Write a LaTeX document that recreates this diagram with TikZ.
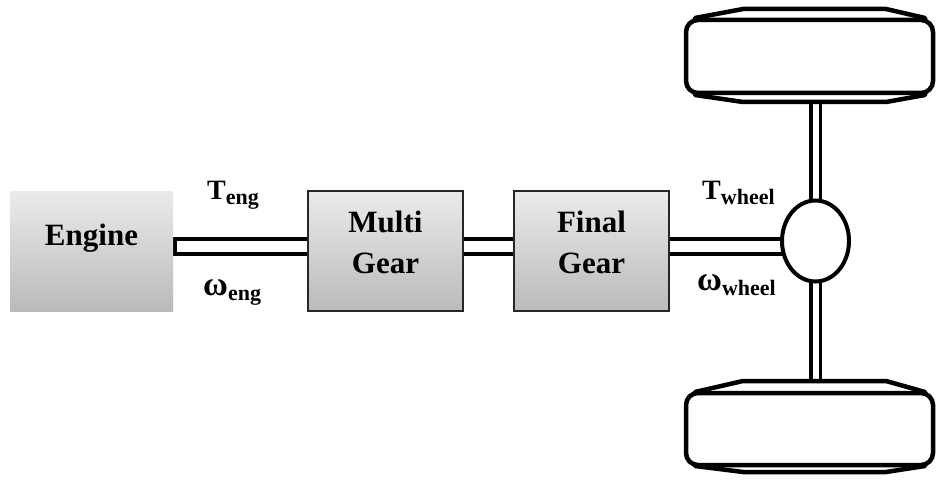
\documentclass[tikz,border=0pt]{standalone}
\usepackage{fontspec}
\setmainfont{Liberation Serif}
\usepackage{tikz}
\usetikzlibrary{shapes.geometric, backgrounds, positioning}

\newcommand{\varsub}[2]{#1\raisebox{-5pt}{\fontsize{22}{22}\selectfont #2}}
\newcommand{\bigomega}{{\fontsize{34}{34}\selectfont ω}}

\tikzset{
  unitbox/.style={minimum width=#1, minimum height=120pt, inner sep=0pt, outer sep=0pt,
    top color=black!8, bottom color=black!27},
  gearbox/.style={unitbox=155pt, draw=black!85, line width=1.5pt},
  boxtext/.style={inner sep=0pt, align=center, font={\fontsize{31}{41}\selectfont\bfseries}},
  shaft/.style={draw, line width=4pt, double=white, double distance=11pt, line cap=rect},
  axle/.style={draw, line width=3.5pt, double=white, double distance=6pt, line cap=rect},
  tyre/.style={draw, line width=4.5pt, fill=white, rounded corners=12pt, minimum width=247pt,
    inner sep=0pt, outer sep=0pt},
  tread/.style={draw, line width=4.5pt, fill=white, line join=round},
  varlbl/.style={inner sep=0pt, anchor=base west, font={\fontsize{28}{30}\selectfont\bfseries}}
}

\begin{document}
\begin{tikzpicture}[x=1pt, y=-1pt]
  \useasboundingbox (0,0) rectangle (936,481);

  % boxes of the drive line
  \node[unitbox=163pt] (engine) at (91.5,251) {};
  \node[gearbox] (multi) at (385.5,251) {};
  \node[gearbox] (final) at (591.5,251) {};
  \node[boxtext] (enginetxt) at ([yshift=13pt]engine.center) {Engine};
  \node[boxtext] (multitxt) at ([yshift=9pt]multi.center) {Multi\\Gear};
  \node[boxtext] (finaltxt) at ([yshift=9pt]final.center) {Final\\Gear};

  % differential
  \node[draw, ellipse, line width=4pt, fill=white, minimum width=67pt, minimum height=81pt,
    inner sep=0pt, outer sep=0pt] (diff) at (815.5,241) {};

  % wheels: tread first, then the tyre over it
  \draw[tread] (695,18) -- (743,9) -- (886,9) -- (925,18) -- (925,95) -- (886,102)
    -- (743,102) -- (695,95) -- cycle;
  \node[tyre, minimum height=73pt] (wtop) at (809.5,56.5) {};
  \draw[tread] (695,392) -- (743,381) -- (886,381) -- (925,392) -- (925,466) -- (886,472)
    -- (743,472) -- (695,466) -- cycle;
  \node[tyre, minimum height=72pt] (wbottom) at (809.5,429) {};

  % shafts
  \coordinate (shaftlvl) at (0,246.5);
  \begin{scope}[on background layer]
    \draw[shaft, shorten <=9.5pt] (engine.east |- shaftlvl) -- (multi.west |- shaftlvl);
    \draw[shaft] (multi.east |- shaftlvl) -- (final.west |- shaftlvl);
    \draw[shaft] (final.east |- shaftlvl) -- (diff.west |- shaftlvl);
    \draw[axle] (diff.north) -- (diff.north |- wtop.south);
    \draw[axle] (diff.south) -- (diff.south |- wbottom.north);
  \end{scope}

  % torque and speed
  \node[varlbl] (teng) at (207,200) {\varsub{T}{eng}};
  \node[varlbl] (weng) at (203,295) {\varsub{\bigomega}{eng}};
  \node[varlbl] (twheel) at (702,200) {\varsub{T}{wheel}};
  \node[varlbl] (wwheel) at (697,290) {\varsub{\bigomega}{wheel}};
\end{tikzpicture}
\end{document}
